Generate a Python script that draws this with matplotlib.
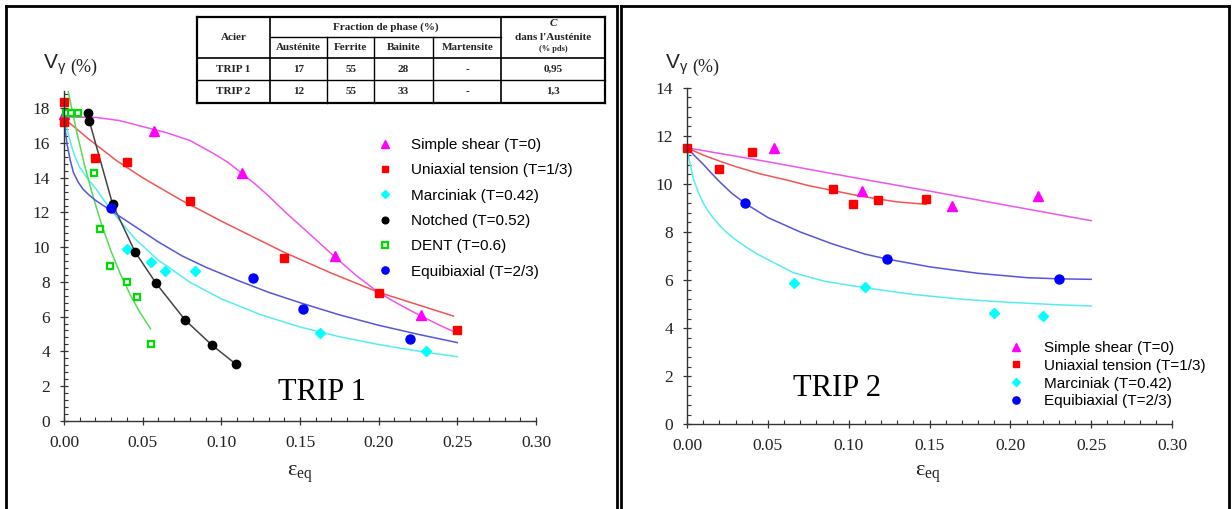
import matplotlib
matplotlib.use('Agg')
import matplotlib.pyplot as plt
from matplotlib.ticker import MultipleLocator, FormatStrFormatter
from matplotlib.lines import Line2D

W, H = 1232, 509

# ---- TRIP 1 : points mesures ----
t1_shear_x = [0.0, 0.057, 0.113, 0.172, 0.227]
t1_shear_y = [17.7, 16.7, 14.3, 9.5, 6.1]
t1_uni_x = [0.0, 0.0, 0.020, 0.040, 0.080, 0.140, 0.200, 0.250]
t1_uni_y = [18.38, 17.23, 15.16, 14.89, 12.66, 9.36, 7.38, 5.25]
t1_marc_x = [0.040, 0.055, 0.064, 0.083, 0.163, 0.230]
t1_marc_y = [9.88, 9.13, 8.63, 8.63, 5.08, 4.02]
t1_notch_x = [0.0155, 0.0161, 0.0309, 0.0451, 0.0585, 0.0770, 0.0940, 0.1091]
t1_notch_y = [17.75, 17.27, 12.47, 9.74, 7.92, 5.80, 4.36, 3.27]
t1_dent_x = [0.0013, 0.0045, 0.0091, 0.0189, 0.0231, 0.0292, 0.0398, 0.0465, 0.0551]
t1_dent_y = [17.75, 17.75, 17.75, 14.26, 11.05, 8.92, 7.98, 7.11, 4.44]
t1_equi_x = [0.0297, 0.120, 0.152, 0.220]
t1_equi_y = [12.24, 8.24, 6.44, 4.73]

# ---- TRIP 1 : courbes lissees ----
t1_shear_fx = [0, 0.02, 0.035, 0.05, 0.065, 0.08, 0.095, 0.104, 0.113, 0.122, 0.13,
               0.1415, 0.155, 0.172, 0.186, 0.2, 0.214, 0.227, 0.24, 0.25]
t1_shear_fy = [17.5, 17.48, 17.3, 16.95, 16.6, 16.15, 15.4, 14.9, 14.26, 13.6, 12.95,
               11.95, 10.85, 9.45, 8.35, 7.38, 6.65, 6.03, 5.45, 5.04]
t1_uni_fx = [0, 0.015, 0.0335, 0.05, 0.0737, 0.1, 0.12, 0.14, 0.17, 0.2, 0.225, 0.2475]
t1_uni_fy = [17.43, 16.28, 14.98, 14.0, 12.75, 11.5, 10.6, 9.7, 8.5, 7.4, 6.68, 6.03]
t1_marc_fx = [0, 0.0025, 0.005, 0.0075, 0.01, 0.015, 0.02, 0.03, 0.045, 0.06, 0.08,
              0.1, 0.125, 0.15, 0.175, 0.2, 0.225, 0.25]
t1_marc_fy = [17.6, 16.6, 15.75, 15.1, 14.6, 13.95, 13.4, 12.12, 10.49, 9.25, 7.98,
              7.02, 6.11, 5.40, 4.84, 4.39, 4.01, 3.69]
t1_dent_fx = [0.0027, 0.008, 0.013, 0.018, 0.024, 0.030, 0.036, 0.042, 0.048, 0.055]
t1_dent_fy = [18.96, 16.67, 14.75, 13.06, 11.28, 9.74, 8.42, 7.27, 6.28, 5.30]
t1_equi_fx = [0, 0.001, 0.002, 0.004, 0.006, 0.009, 0.012, 0.016, 0.02, 0.03, 0.045,
              0.06, 0.075, 0.09, 0.11, 0.13, 0.15, 0.175, 0.2, 0.225, 0.25]
t1_equi_fy = [17.4, 16.6, 15.9, 15.0, 14.3, 13.75, 13.35, 13.0, 12.7, 12.1, 11.2,
              10.3, 9.5, 8.85, 8.1, 7.4, 6.8, 6.1, 5.5, 4.98, 4.5]

# ---- TRIP 2 : points mesures ----
t2_shear_x = [0.0539, 0.108, 0.164, 0.2171]
t2_shear_y = [11.5, 9.70, 9.09, 9.48]
t2_uni_x = [0.0, 0.0198, 0.0399, 0.0901, 0.1029, 0.1179, 0.148]
t2_uni_y = [11.5, 10.6, 11.33, 9.79, 9.15, 9.34, 9.38]
t2_marc_x = [0.0659, 0.1101, 0.1899, 0.2200]
t2_marc_y = [5.89, 5.70, 4.64, 4.50]
t2_equi_x = [0.0357, 0.1239, 0.2302]
t2_equi_y = [9.19, 6.88, 6.04]

# ---- TRIP 2 : courbes ----
t2_shear_fx = [0, 0.05, 0.1, 0.15, 0.2, 0.25]
t2_shear_fy = [11.5, 10.92, 10.3, 9.7, 9.08, 8.47]
t2_uni_fx = [0, 0.01, 0.02, 0.03, 0.045, 0.0617, 0.075, 0.0905, 0.105, 0.1173, 0.13, 0.148]
t2_uni_fy = [11.5, 11.2, 10.95, 10.72, 10.42, 10.16, 9.93, 9.72, 9.52, 9.38, 9.25, 9.15]
t2_marc_fx = [0, 0.002, 0.004, 0.007, 0.01, 0.013, 0.016, 0.02, 0.025, 0.03, 0.037,
              0.043, 0.05, 0.066, 0.085, 0.11, 0.14, 0.17, 0.2, 0.23, 0.25]
t2_marc_fy = [11.5, 10.8, 10.2, 9.65, 9.2, 8.88, 8.6, 8.28, 7.95, 7.68, 7.35,
              7.1, 6.85, 6.3, 5.95, 5.68, 5.4, 5.2, 5.07, 4.97, 4.92]
t2_equi_fx = [0, 0.005, 0.01, 0.015, 0.02, 0.0275, 0.0359, 0.05, 0.07, 0.09, 0.11,
              0.124, 0.15, 0.18, 0.21, 0.23, 0.25]
t2_equi_fy = [11.5, 11.15, 10.82, 10.45, 10.1, 9.62, 9.19, 8.6, 8.0, 7.5, 7.08,
              6.87, 6.55, 6.28, 6.1, 6.05, 6.03]

labels = ['Simple shear (T=0)', 'Uniaxial tension (T=1/3)', 'Marciniak (T=0.42)',
          'Notched (T=0.52)', 'DENT (T=0.6)', 'Equibiaxial (T=2/3)']

# ---- tableau ----
tab_sub = ['Austénite', 'Ferrite', 'Bainite', 'Martensite']
tab_rows = [['TRIP 1', '17', '55', '28', '-', '0,95'],
            ['TRIP 2', '12', '55', '33', '-', '1,3']]

plt.rcParams['font.family'] = ['Liberation Serif', 'DejaVu Serif']
plt.rcParams['mathtext.fontset'] = 'custom'
plt.rcParams['mathtext.rm'] = 'Liberation Sans'
plt.rcParams['mathtext.it'] = 'Liberation Sans'

fig = plt.figure(figsize=(W / 100, H / 100), dpi=100)

def fx(px):
    return px / W

def fy(py):
    return 1 - py / H

def axe(px0, px1, py_top, py_bot):
    return fig.add_axes([fx(px0), fy(py_bot), fx(px1) - fx(px0), fy(py_top) - fy(py_bot)])

ax1 = axe(64, 536, 91.0, 420.7)
ax2 = axe(687, 1172, 87.7, 424.3)

MAG, RED, CYA, BLK, GRN, BLU = '#ff00ff', '#ff0000', '#00ffff', '#000000', '#00dd00', '#0000ff'
LMAG, LRED, LCYA, LBLK, LGRN, LBLU = '#ee55ee', '#f25555', '#55eeee', '#444444', '#55dd55', '#5555dd'

lw = 1.1
# lignes TRIP 1
ax1.plot(t1_shear_fx, t1_shear_fy, color=LMAG, lw=lw)
ax1.plot(t1_uni_fx, t1_uni_fy, color=LRED, lw=lw)
ax1.plot(t1_marc_fx, t1_marc_fy, color=LCYA, lw=lw)
ax1.plot(t1_notch_x, t1_notch_y, color=LBLK, lw=lw)
ax1.plot(t1_dent_fx, t1_dent_fy, color=LGRN, lw=lw)
ax1.plot(t1_equi_fx, t1_equi_fy, color=LBLU, lw=lw)

h = []
h += ax1.plot(t1_shear_x, t1_shear_y, '^', color=MAG, ms=6.5, label=labels[0], ls='none')
h += ax1.plot(t1_uni_x, t1_uni_y, 's', color=RED, ms=5.5, label=labels[1], ls='none')
h += ax1.plot(t1_marc_x, t1_marc_y, 'D', color=CYA, ms=5.5, label=labels[2], ls='none')
h += ax1.plot(t1_notch_x, t1_notch_y, 'o', color=BLK, ms=6, label=labels[3], ls='none')
h += ax1.plot(t1_dent_x, t1_dent_y, 's', mfc='white', mec=GRN, mew=1.6, ms=5,
              label=labels[4], ls='none')
h += ax1.plot(t1_equi_x, t1_equi_y, 'o', color=BLU, ms=6.5, label=labels[5], ls='none')

# lignes TRIP 2
ax2.plot(t2_shear_fx, t2_shear_fy, color=LMAG, lw=lw)
ax2.plot(t2_uni_fx, t2_uni_fy, color=LRED, lw=lw)
ax2.plot(t2_marc_fx, t2_marc_fy, color=LCYA, lw=lw)
ax2.plot(t2_equi_fx, t2_equi_fy, color=LBLU, lw=lw)

h2 = []
h2 += ax2.plot(t2_shear_x, t2_shear_y, '^', color=MAG, ms=6.5, label=labels[0], ls='none')
h2 += ax2.plot(t2_uni_x, t2_uni_y, 's', color=RED, ms=6, label=labels[1], ls='none')
h2 += ax2.plot(t2_marc_x, t2_marc_y, 'D', color=CYA, ms=5.5, label=labels[2], ls='none')
h2 += ax2.plot(t2_equi_x, t2_equi_y, 'o', color=BLU, ms=6.5, label=labels[5], ls='none')

for ax, ytop, ystep in [(ax1, 19, 2), (ax2, 14, 2)]:
    ax.set_xlim(0, 0.30)
    ax.set_ylim(0, ytop)
    ax.xaxis.set_major_locator(MultipleLocator(0.05))
    ax.xaxis.set_minor_locator(MultipleLocator(0.01))
    ax.yaxis.set_major_locator(MultipleLocator(ystep))
    ax.yaxis.set_minor_locator(MultipleLocator(0.4))
    ax.xaxis.set_major_formatter(FormatStrFormatter('%.2f'))
    ax.spines['top'].set_visible(False)
    ax.spines['right'].set_visible(False)
    for s in ['left', 'bottom']:
        ax.spines[s].set_color('#333333')
        ax.spines[s].set_linewidth(1.0)
    ax.tick_params(which='major', direction='inout', length=6, width=0.9,
                   color='#333333', labelsize=12.5, labelcolor='#222222', pad=7)
    ax.tick_params(which='minor', direction='in', length=3, width=0.8, color='#333333')
    ax.patch.set_alpha(0)
    for t in ax.get_lines():
        t.set_clip_on(False)

ax1.set_yticks(range(0, 19, 2))

leg_kw = dict(frameon=False, prop={'family': 'Liberation Sans', 'size': 11},
              handlelength=1.0, borderpad=0, borderaxespad=0, markerscale=0.8,
              loc='upper left', bbox_transform=fig.transFigure)
ax1.legend(handles=h, labelspacing=0.74, handletextpad=1.2,
           bbox_to_anchor=(fx(377), fy(138)), **leg_kw)
ax2.legend(handles=h2, labelspacing=0.25, handletextpad=1.35,
           bbox_to_anchor=(fx(1008), fy(341)), **leg_kw)

# libelles
for x0, xc in [(43, 300), (665, 928)]:
    fig.text(fx(x0), fy(65), r'V$_{\gamma}$', family='Liberation Sans', size=15,
             color='#222222', va='center', ha='left')
    fig.text(fx(x0 + 27), fy(67), '(%)', family='Liberation Serif', size=13,
             color='#222222', va='center', ha='left')
    fig.text(fx(xc), fy(474), r'$\mathregular{\varepsilon_{eq}}$', size=16,
             color='#222222', ha='center', va='center')

fig.text(fx(322), fy(392), 'TRIP 1', family='Liberation Serif', size=22,
         ha='center', va='center')
fig.text(fx(837), fy(389), 'TRIP 2', family='Liberation Serif', size=22,
         ha='center', va='center')

# cadres des deux panneaux
def ligne(x0, y0, x1, y1, lw=2.0):
    fig.add_artist(Line2D([fx(x0), fx(x1)], [fy(y0), fy(y1)], color='black',
                          lw=lw, transform=fig.transFigure))

ligne(6, 6, 617, 6)
ligne(6, 6, 6, 520)
ligne(617, 6, 617, 520)
ligne(621, 6, 1229, 6)
ligne(621, 6, 621, 520)
ligne(1229, 6, 1229, 520)

# tableau
cols = [197.4, 269.8, 327.4, 373.8, 433.1, 501.4, 604.8]
rows = [17.3, 36.7, 58.3, 80.0, 103.3]
ligne(cols[0], rows[0], cols[-1], rows[0], 1.6)
ligne(cols[0], rows[-1], cols[-1], rows[-1], 1.6)
ligne(cols[0], rows[0], cols[0], rows[-1], 1.6)
ligne(cols[-1], rows[0], cols[-1], rows[-1], 1.6)
ligne(cols[1], rows[0], cols[1], rows[-1], 1.2)
ligne(cols[5], rows[0], cols[5], rows[-1], 1.2)
ligne(cols[1], rows[1], cols[5], rows[1], 1.0)
ligne(cols[0], rows[2], cols[-1], rows[2], 1.2)
ligne(cols[0], rows[3], cols[-1], rows[3], 1.0)
for c in cols[2:5]:
    ligne(c, rows[1], c, rows[-1], 1.0)

tk = dict(family='Liberation Serif', weight='bold', size=8, ha='center',
          va='center', color='#222222')
fig.text(fx((cols[0] + cols[1]) / 2), fy((rows[0] + rows[2]) / 2), 'Acier', **tk)
fig.text(fx((cols[1] + cols[5]) / 2), fy((rows[0] + rows[1]) / 2),
         'Fraction de phase (%)', **tk)
fig.text(fx((cols[5] + cols[6]) / 2), fy(24), 'C', style='italic', **tk)
fig.text(fx((cols[5] + cols[6]) / 2), fy(37.5), "dans l'Austénite", **tk)
fig.text(fx((cols[5] + cols[6]) / 2), fy(49), '(% pds)', **{**tk, 'size': 6})
for i, s in enumerate(tab_sub):
    fig.text(fx((cols[i + 1] + cols[i + 2]) / 2), fy((rows[1] + rows[2]) / 2), s, **tk)
for r, row in enumerate(tab_rows):
    for i, s in enumerate(row):
        fig.text(fx((cols[i] + cols[i + 1]) / 2), fy((rows[r + 2] + rows[r + 3]) / 2), s, **tk)

fig.savefig('out.png', dpi=100)
